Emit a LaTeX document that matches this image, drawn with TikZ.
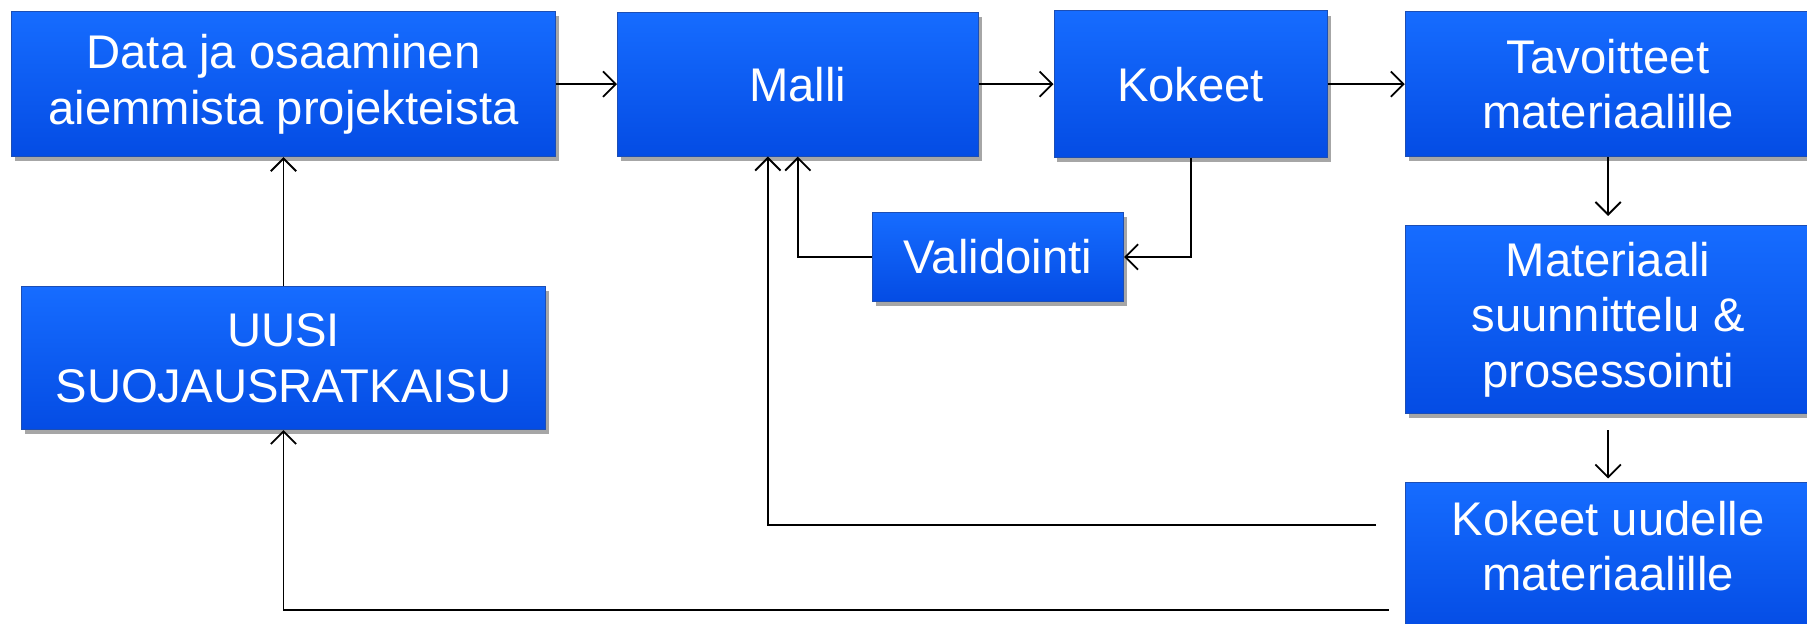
\documentclass[tikz,border=0pt]{standalone}
\usepackage{fontspec}
\setmainfont{Liberation Sans}
\usetikzlibrary{arrows.meta, positioning, shadows}
\definecolor{boxtop}{RGB}{22,108,255}
\definecolor{boxbot}{RGB}{4,76,228}
\definecolor{boxedge}{RGB}{28,78,180}
\tikzset{
    box/.style={draw=boxedge, line width=0.8pt, top color=boxtop, bottom color=boxbot, text=white, align=center,
        font=\fontsize{41}{48}\selectfont, inner sep=4pt,
        drop shadow={shadow xshift=3pt, shadow yshift=-4pt, opacity=0.35, fill=black}},
    arrow/.style={-{Straight Barb[length=11pt, width=22pt]}, line width=1.6pt, black}
}

\begin{document}
\begin{tikzpicture}[x=1pt, y=-1pt]
        \clip (0,0) rectangle (1568,541);
        \fill[white] (0,0) rectangle (1568,541);
        \node [box, minimum width=472pt, minimum height=126pt] (data) at (246,73) {Data ja osaaminen\\aiemmista projekteista};
        \node [box, minimum width=313pt, minimum height=125pt, right=53pt of data] (malli) {Malli};
        \node [box, minimum width=237pt, minimum height=127pt, right=65pt of malli] (kokeet) {Kokeet};
        \node [box, minimum width=352pt, minimum height=126pt, right=67pt of kokeet] (tavoitteet) {Tavoitteet\\materiaalille};
        \node [box, minimum width=352pt, minimum height=163pt, below=59pt of tavoitteet] (materiaali) {Materiaali\\suunnittelu \&\\prosessointi};
        \node [box, minimum width=352pt, minimum height=130pt, below=59pt of materiaali, text depth=20pt] (uudet) {Kokeet uudelle\\materiaalille};
        \node [box, minimum width=218pt, minimum height=77pt] (validointi) at (866,223) {Validointi};
        \node [box, minimum width=454pt, minimum height=124pt, below=112pt of data] (uusi) {UUSI\\SUOJAUSRATKAISU};
        \draw [arrow] (data) -- (malli);
        \draw [arrow] (malli) -- (kokeet);
        \draw [arrow] (kokeet) -- (tavoitteet);
        \draw [arrow] (kokeet.south) |- (validointi.east);
        \draw [arrow] (validointi.west) -| (malli.south);
        \draw [arrow, shorten >=8pt] (tavoitteet) -- (materiaali);
        \draw [arrow, shorten <=14pt, shorten >=3pt] (materiaali) -- (uudet);
        \draw [arrow, shorten <=25pt] ([yshift=28pt]uudet.west) -| ([xshift=-26pt]malli.south);
        \draw [arrow, shorten <=14pt] ([yshift=-46pt]uudet.west) -| (uusi.south);
        \draw [arrow] (uusi) -- (data);
    \end{tikzpicture}
\end{document}
